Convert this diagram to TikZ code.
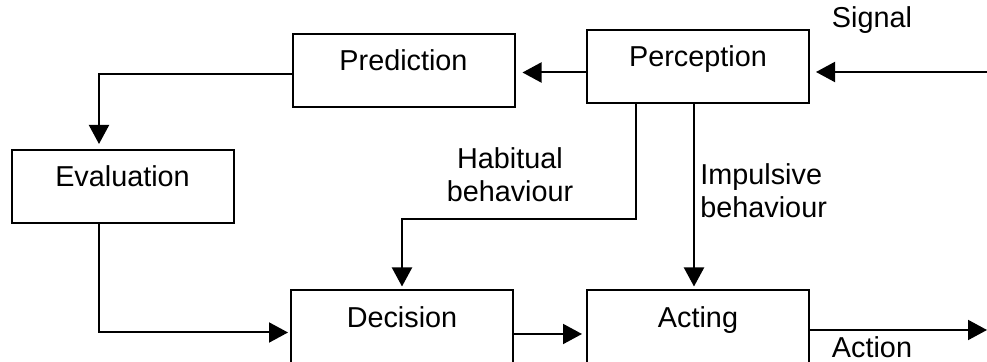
\documentclass[tikz,border=0pt]{standalone}
\usepackage{fontspec}
\setmainfont{Liberation Sans}
\usetikzlibrary{arrows.meta}
\begin{document}
\begin{tikzpicture}[x=0.5pt,y=-0.5pt,
  font=\fontsize{14.4}{16.5}\selectfont,
  box/.style={draw,line width=1pt,inner sep=0pt,minimum width=111pt,
    text height=18.5pt,text depth=18pt},
  arr/.style={line width=1pt,-{Triangle[length=9.5pt,width=10pt]}},
  lbl/.style={inner sep=0pt}]
\useasboundingbox (0,0) rectangle (987,362);
\node[box] (pred) at (403.5,70.5) {Prediction};
\node[box] (perc) at (698,66.5) {Perception};
\node[box] (eval) at (122.5,186.5) {Evaluation};
\node[box] (dec) at (402,327) {Decision};
\node[box] (act) at (698,327) {Acting};
\coordinate (sig) at (987,72);
\coordinate (out) at (987,330);
\coordinate (hb) at (402,219);
\node[lbl,anchor=base] (signal) at (872,28) {Signal};
\node[lbl,anchor=base] (action) at (872,358) {Action};
\node[lbl,anchor=base,align=center] (habit) at (510,202) {Habitual\\behaviour};
\node[lbl,anchor=base west,align=left] (impul) at (700,218) {Impulsive\\behaviour};
\draw[arr,shorten >=3.5pt] ([yshift=-3pt]perc.west) -- ([yshift=-3pt]perc.west -| pred.east);
\draw[arr,shorten >=3pt] (sig) -- (sig -| perc.east);
\draw[arr,shorten >=2.5pt] ([yshift=-1.75pt]pred.west) -| ([xshift=-11.75pt]eval.north);
\draw[arr,shorten >=1pt] ([xshift=-11.75pt]eval.south) |- ([yshift=-2.75pt]dec.west);
\draw[arr,shorten >=2pt] ([yshift=-3.5pt]dec.east) -- ([yshift=-3.5pt]act.west);
\draw[arr] ([yshift=-1.5pt]act.east) -- (out);
\draw[arr,shorten >=1.5pt] ([xshift=-31pt]perc.south) |- (hb) -- (dec.north);
\draw[arr,shorten >=1.5pt] ([xshift=-2pt]perc.south) -- ([xshift=-2pt]act.north);
\end{tikzpicture}
\end{document}
